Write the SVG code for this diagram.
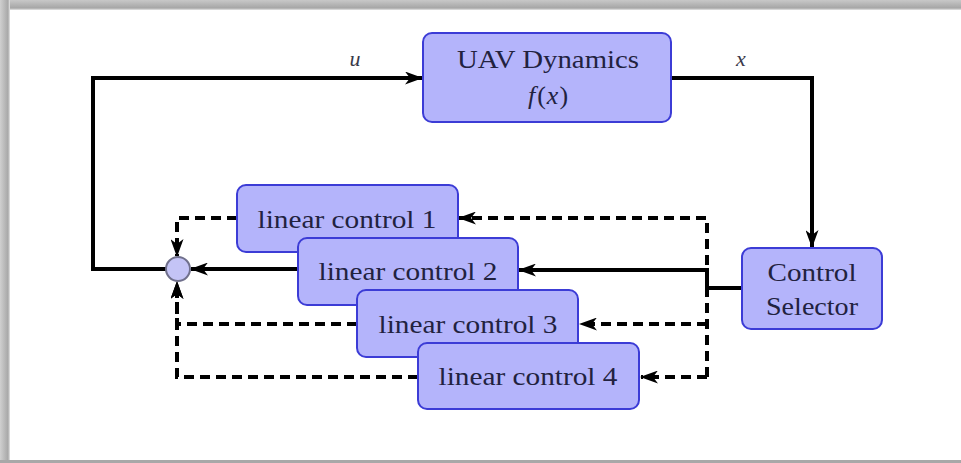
<svg xmlns="http://www.w3.org/2000/svg" width="961" height="463" viewBox="0 0 961 463">
  <defs>
    <linearGradient id="topShade" x1="0" y1="0" x2="0" y2="1">
      <stop offset="0" stop-color="#c8c8c8"/>
      <stop offset="0.8" stop-color="#a6a6a6"/>
      <stop offset="1" stop-color="#e6e6e6"/>
    </linearGradient>
    <linearGradient id="leftShade" x1="0" y1="0" x2="1" y2="0">
      <stop offset="0" stop-color="#d0d0d0"/>
      <stop offset="0.8" stop-color="#a8a8a8"/>
      <stop offset="1" stop-color="#e8e8e8"/>
    </linearGradient>
    <marker id="head" viewBox="0 0 18 13" refX="17" refY="6.5" markerWidth="18" markerHeight="13" markerUnits="userSpaceOnUse" orient="auto">
      <path d="M0,0 L18,6.5 L0,13 L5,6.5 z" fill="#000"/>
    </marker>
    <style>
      .box { fill: #b4b4fb; stroke: #3c3cd6; stroke-width: 2; }
      .lbl { font-family: "Liberation Serif", "Times New Roman", serif; font-size: 26px; fill: #22223f; text-anchor: middle; }
      .sym { font-family: "Liberation Serif", "Times New Roman", serif; font-size: 22px; fill: #3a3a4a; text-anchor: middle; font-style: italic; }
      .math { font-style: italic; }
      .solid { fill: none; stroke: #000; stroke-width: 4; }
      .dash { fill: none; stroke: #000; stroke-width: 4; stroke-dasharray: 10 6; }
    </style>
  </defs>

  <!-- page frame -->
  <rect x="0" y="0" width="961" height="463" fill="#ffffff"/>
  <rect x="0" y="0" width="961" height="10" fill="url(#topShade)"/>
  <rect x="0" y="0" width="10" height="463" fill="url(#leftShade)"/>
  <rect x="0" y="460" width="961" height="3" fill="#a8a8a8"/>

  <!-- connectors -->
  <g id="connectors">
    <path class="solid" d="M166 269 H93 V78 H422" marker-end="url(#head)"/>
    <path class="solid" d="M671 78 H812 V247" marker-end="url(#head)"/>
    <path class="solid" d="M742 288 H707 V270 H519" marker-end="url(#head)"/>
    <path class="dash" d="M707 377 V218 H459" marker-end="url(#head)"/>
    <path class="dash" d="M707 324 H580" marker-end="url(#head)"/>
    <path class="dash" d="M707 377 H641" marker-end="url(#head)"/>
    <path class="dash" d="M237 218 H177 V256" marker-end="url(#head)"/>
    <path class="solid" d="M298 269 H191" marker-end="url(#head)"/>
    <path class="dash" d="M357 324 H177 V282" marker-end="url(#head)"/>
    <path class="dash" d="M418 377 H177 V282" marker-end="url(#head)"/>
  </g>

  <g id="sum">
    <circle cx="178" cy="269" r="12" fill="#c4c4f6" stroke="#70708c" stroke-width="2"/>
  </g>

  <g id="uav">
    <rect class="box" x="423" y="33" width="248" height="89" rx="9"/>
    <text class="lbl" x="548" y="68" textLength="182" lengthAdjust="spacingAndGlyphs">UAV Dynamics</text>
    <text class="lbl" x="548" y="104"><tspan class="math">f</tspan><tspan dx="2">(</tspan><tspan class="math" dx="1">x</tspan><tspan dx="1">)</tspan></text>
  </g>

  <g id="labels">
    <text class="sym" x="355" y="66">u</text>
    <text class="sym" x="741" y="66">x</text>
  </g>

  <g id="selector">
    <rect class="box" x="742" y="248" width="140" height="81" rx="9"/>
    <text class="lbl" x="812" y="281" textLength="89" lengthAdjust="spacingAndGlyphs">Control</text>
    <text class="lbl" x="812" y="315" textLength="92" lengthAdjust="spacingAndGlyphs">Selector</text>
  </g>

  <g id="lc1">
    <rect class="box" x="237" y="185" width="221" height="67" rx="9"/>
    <text class="lbl" x="347" y="228" textLength="179" lengthAdjust="spacingAndGlyphs">linear control 1</text>
  </g>
  <g id="lc2">
    <rect class="box" x="298" y="238" width="220" height="67" rx="9"/>
    <text class="lbl" x="408" y="280" textLength="179" lengthAdjust="spacingAndGlyphs">linear control 2</text>
  </g>
  <g id="lc3">
    <rect class="box" x="357" y="290" width="221" height="67" rx="9"/>
    <text class="lbl" x="468" y="333" textLength="179" lengthAdjust="spacingAndGlyphs">linear control 3</text>
  </g>
  <g id="lc4">
    <rect class="box" x="418" y="343" width="221" height="66" rx="9"/>
    <text class="lbl" x="528" y="385" textLength="179" lengthAdjust="spacingAndGlyphs">linear control 4</text>
  </g>
</svg>
